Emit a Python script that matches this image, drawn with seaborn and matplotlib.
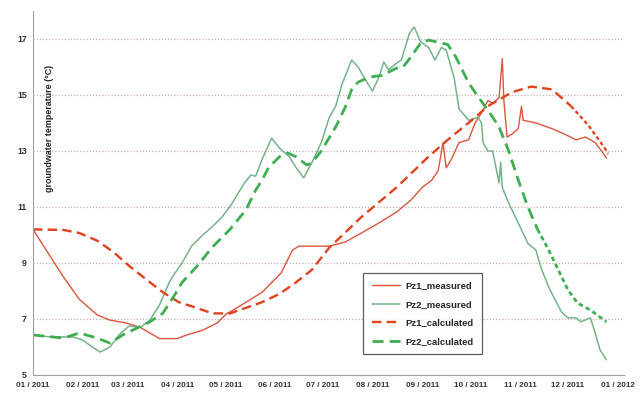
# groundwater temperature, measured vs calculated, Pz1 / Pz2

import numpy as np
import pandas as pd
import matplotlib as mpl
mpl.use('Agg')
from matplotlib import pyplot as plt
import matplotlib.dates as mdates
import seaborn as sns

# days since 2011-01-01 and temperature (deg C)
pz1_meas_day = [0, 19, 29, 40, 48, 58, 67, 73, 79, 90, 96, 106, 115, 121, 123, 143, 155, 162,
                166, 185, 195, 205, 216, 227, 236, 243, 249, 253, 256, 258, 261, 266, 272, 276,
                280, 284, 287, 291, 293, 294, 296, 299, 303, 305, 306, 314, 324, 332, 339, 345,
                351, 355, 358]
pz1_meas_val = [10.2, 8.5, 7.7, 7.15, 6.96, 6.86, 6.7, 6.5, 6.3, 6.3, 6.43, 6.6, 6.86, 7.2, 7.25,
                7.95, 8.65, 9.46, 9.6, 9.6, 9.75, 10.07, 10.43, 10.82, 11.25, 11.7, 11.96, 12.3,
                13.3, 12.4, 12.68, 13.3, 13.4, 14.0, 14.36, 14.8, 14.7, 14.9, 16.3, 14.8, 13.5,
                13.6, 13.8, 14.6, 14.1, 14.0, 13.8, 13.6, 13.4, 13.5, 13.3, 13.0, 12.75]

pz2_meas_day = [0, 11, 25, 31, 37, 42, 48, 54, 60, 67, 73, 79, 85, 87, 93, 99, 106, 112, 118, 124,
                132, 136, 139, 143, 149, 154, 160, 164, 169, 174, 180, 185, 189, 193, 199, 203,
                208, 212, 216, 219, 222, 227, 230, 235, 238, 242, 247, 251, 255, 258, 263, 266,
                272, 278, 280, 281, 284, 287, 291, 292, 293, 297, 303, 309, 314, 317, 322, 326,
                330, 334, 339, 342, 348, 351, 354, 358]
pz2_meas_val = [6.43, 6.36, 6.36, 6.25, 6.0, 5.82, 6.0, 6.45, 6.75, 6.7, 6.96, 7.5, 8.3, 8.5, 9.0,
                9.6, 10.0, 10.3, 10.64, 11.1, 11.86, 12.14, 12.1, 12.7, 13.46, 13.1, 12.8, 12.43,
                12.04, 12.57, 13.3, 14.2, 14.6, 15.4, 16.25, 16.0, 15.5, 15.14, 15.64, 16.18,
                15.9, 16.14, 16.25, 17.2, 17.43, 16.9, 16.7, 16.25, 16.7, 16.6, 15.6, 14.5, 14.1,
                14.2, 14.0, 13.3, 13.0, 13.0, 11.86, 12.6, 11.7, 11.14, 10.43, 9.7, 9.46, 8.86,
                8.14, 7.68, 7.25, 7.04, 7.04, 6.9, 7.04, 6.5, 5.9, 5.54]

pz1_calc_day = [0, 19, 29, 40, 50, 60, 71, 81, 91, 102, 112, 123, 133, 143, 154, 164, 174, 185,
                197, 205, 227, 247, 261, 274, 284, 299, 311, 324, 336, 347, 357, 359]
pz1_calc_val = [10.2, 10.18, 10.07, 9.8, 9.4, 8.9, 8.4, 7.96, 7.6, 7.4, 7.2, 7.2, 7.4, 7.6, 7.9,
                8.3, 8.75, 9.55, 10.2, 10.64, 11.7, 12.8, 13.5, 14.1, 14.6, 15.1, 15.3, 15.2,
                14.6, 13.9, 13.1, 12.9]

pz2_calc_day = [0, 19, 29, 40, 48, 56, 65, 73, 81, 90, 93, 102, 112, 123, 133, 139, 143, 147, 154,
                159, 164, 171, 174, 180, 189, 195, 199, 203, 210, 218, 227, 231, 236, 242, 247,
                255, 259, 264, 272, 278, 284, 291, 297, 303, 309, 315, 322, 328, 334, 340, 348,
                358]
pz2_calc_val = [6.43, 6.32, 6.5, 6.32, 6.14, 6.43, 6.68, 6.9, 7.2, 8.0, 8.3, 8.86, 9.57, 10.2,
                10.9, 11.6, 11.96, 12.4, 12.8, 12.93, 12.8, 12.5, 12.57, 13.0, 13.86, 14.57, 15.2,
                15.46, 15.64, 15.7, 15.96, 16.0, 16.36, 16.86, 16.96, 16.86, 16.8, 16.36, 15.43,
                14.93, 14.46, 13.86, 13.0, 11.96, 11.0, 10.2, 9.46, 8.75, 8.04, 7.57, 7.32, 6.9]

# index where the calculated curves turn dotted (last months)
pz1_tail = 28
pz2_tail = 45

start = pd.Timestamp('2011-01-01')
def to_dates(days):
    return start + pd.to_timedelta(days, unit='D')

sns.set_style('white')
plt.rcParams['font.family'] = ['Liberation Sans', 'DejaVu Sans']

fig = plt.figure(figsize=(6.42, 3.96), dpi=100)
ax = fig.add_axes([33/642, 1 - 375/396, (624 - 33)/642, (375 - 11)/396])

red_m = '#d9553e'
green_m = '#74b48a'
red_c = '#e0421e'
green_c = '#3fae52'
dash = (0, (4, 2.2))
dots = (0, (1.6, 1.2))

sns.lineplot(x=to_dates(pz1_meas_day), y=pz1_meas_val, ax=ax, color=red_m, lw=1.0,
             estimator=None, sort=False, label='Pz1_measured')
sns.lineplot(x=to_dates(pz2_meas_day), y=pz2_meas_val, ax=ax, color=green_m, lw=1.1,
             estimator=None, sort=False, label='Pz2_measured')
sns.lineplot(x=to_dates(pz1_calc_day[:pz1_tail + 1]), y=pz1_calc_val[:pz1_tail + 1], ax=ax,
             color=red_c, lw=1.7, estimator=None, sort=False, label='Pz1_calculated',
             linestyle=dash)
sns.lineplot(x=to_dates(pz2_calc_day[:pz2_tail + 1]), y=pz2_calc_val[:pz2_tail + 1], ax=ax,
             color=green_c, lw=2.0, estimator=None, sort=False, label='Pz2_calculated',
             linestyle=dash)
sns.lineplot(x=to_dates(pz1_calc_day[pz1_tail:]), y=pz1_calc_val[pz1_tail:], ax=ax,
             color=red_c, lw=1.7, estimator=None, sort=False, linestyle=dots)
sns.lineplot(x=to_dates(pz2_calc_day[pz2_tail:]), y=pz2_calc_val[pz2_tail:], ax=ax,
             color=green_c, lw=2.0, estimator=None, sort=False, linestyle=dots)

ax.set_xlim(start, start + pd.Timedelta(days=369))
ax.set_ylim(5, 18)
ax.set_yticks([5, 7, 9, 11, 13, 15, 17])
ax.set_xticks(pd.date_range('2011-01-01', '2012-01-01', freq='MS'))
ax.xaxis.set_major_formatter(mdates.DateFormatter('%m / %Y'))
ax.set_xlabel('')
ax.set_ylabel('')

for v in [7, 9, 11, 13, 15, 17]:
    ax.axhline(v, color='#c9b3b0', lw=0.9, ls=(0, (1, 1.5)), zorder=0)

for s in ['top', 'right']:
    ax.spines[s].set_visible(False)
for s in ['left', 'bottom']:
    ax.spines[s].set_color('#a0a0a0')
    ax.spines[s].set_linewidth(0.8)

ax.tick_params(axis='both', labelsize=6.3, colors='#333333', length=3, width=0.6,
               direction='out', pad=1.5)
ax.tick_params(axis='x', labelsize=5.8, pad=2)
for lab in ax.get_xticklabels() + ax.get_yticklabels():
    lab.set_fontweight('bold')
for t in ax.yaxis.get_major_ticks():
    t.tick1line.set_color('#a0a0a0')
for t in ax.xaxis.get_major_ticks():
    t.tick1line.set_color('#a0a0a0')

fig.text(50/642, 1 - 128/396, 'groundwater temperature (°C)', rotation=90, ha='center',
         va='center', fontsize=6.4, fontweight='bold', color='#222222')

leg = ax.legend(loc='upper left', bbox_to_anchor=(363/642, 1 - 273/396),
                bbox_transform=fig.transFigure, fancybox=False, frameon=True,
                prop={'size': 6.8, 'weight': 'bold'}, handlelength=3.0, labelspacing=1.0,
                borderpad=0.9, handletextpad=0.6, borderaxespad=0)
leg.get_frame().set_edgecolor('#333333')
leg.get_frame().set_linewidth(0.9)

fig.savefig('out.png', dpi=100)
